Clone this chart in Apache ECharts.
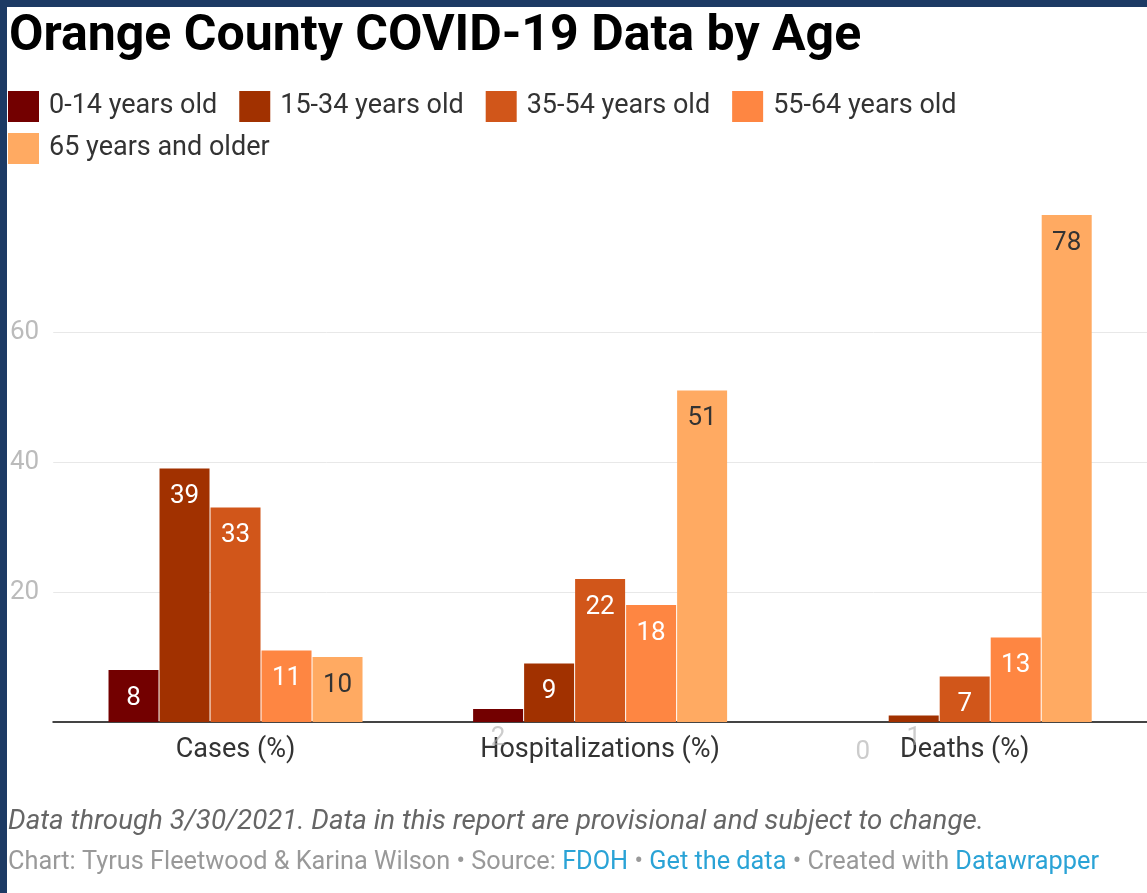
<!DOCTYPE html>
<html>
<head>
<meta charset="utf-8">
<script src="https://cdn.jsdelivr.net/npm/echarts@6/dist/echarts.min.js"></script>
<style>
  html, body { margin: 0; padding: 0; background: #1c3a64; }
  #main { position: absolute; left: 7px; top: 7px; width: 1140px; height: 886px; background: #fff; }
</style>
</head>
<body>
<div id="main"></div>
<script>
// chart data
const categories = ['Cases (%)', 'Hospitalizations (%)', 'Deaths (%)'];
const ageGroups = ['0-14 years old', '15-34 years old', '35-54 years old', '55-64 years old', '65 years and older'];
const age0to14 = [8, 2, 0];
const age15to34 = [39, 9, 1];
const age35to54 = [33, 22, 7];
const age55to64 = [11, 18, 13];
const age65plus = [10, 51, 78];

const colors = ['#730000', '#a13100', '#d1561a', '#fe8642', '#ffaa62'];
const labelColors = ['#fff', '#fff', '#fff', '#fff', '#333'];

const chart = echarts.init(document.getElementById('main'));

const seriesValues = [age0to14, age15to34, age35to54, age55to64, age65plus];

const series = seriesValues.map((vals, i) => ({
  name: ageGroups[i],
  type: 'bar',
  barWidth: 50,
  barGap: '2%',
  itemStyle: { color: colors[i] },
  label: {
    show: true,
    position: 'insideTop',
    distance: 15,
    color: labelColors[i],
    fontFamily: 'Roboto',
    fontSize: 26
  },
  // values too small for an inside label get a faded one under the axis
  data: vals.map(v => v < 3 ? {
    value: v,
    label: { position: 'bottom', distance: v === 0 ? 17 : 3, color: 'rgba(170,170,170,0.6)' }
  } : v)
}));

const legendText = { fontFamily: 'Roboto', fontSize: 27, color: '#333', padding: [0, 0, 0, 5] };

const option = {
  animation: false,
  textStyle: { fontFamily: 'Roboto' },
  title: {
    text: 'Orange County COVID-19 Data by Age',
    left: -3,
    top: 0,
    textStyle: { fontFamily: 'Roboto', fontWeight: 'bold', fontSize: 50, color: '#000' }
  },
  legend: [
    {
      data: ageGroups.slice(0, 4),
      left: 1, top: 84, padding: 0,
      itemWidth: 31, itemHeight: 31, itemGap: 22,
      icon: 'rect',
      textStyle: legendText
    },
    {
      data: ageGroups.slice(4),
      left: 1, top: 126, padding: 0,
      itemWidth: 31, itemHeight: 31,
      icon: 'rect',
      textStyle: legendText
    }
  ],
  grid: { left: 44, right: -6, top: 195, bottom: 171, containLabel: false },
  xAxis: {
    type: 'category',
    data: categories,
    axisLine: { lineStyle: { color: '#444', width: 2 } },
    axisTick: { show: false },
    axisLabel: { fontFamily: 'Roboto', fontSize: 27, color: '#333', margin: 15 }
  },
  yAxis: {
    type: 'value',
    min: 0, max: 80, interval: 20,
    axisLine: { show: false },
    axisTick: { show: false },
    axisLabel: {
      fontFamily: 'Roboto', fontSize: 26, color: '#bbb', margin: 14,
      showMaxLabel: false,
      formatter: v => (v === 0 || v === 80) ? '' : v
    },
    splitLine: { showMinLine: false, showMaxLine: false, lineStyle: { color: '#e8e8e8', width: 1 } }
  },
  series: series,
  graphic: [
    {
      type: 'text', left: 1, top: 801,
      style: {
        text: 'Data through 3/30/2021. Data in this report are provisional and subject to change.',
        font: 'italic 27.7px Roboto', fill: '#666'
      }
    },
    {
      type: 'text', left: 1, top: 843,
      style: {
        text: '{g|Chart: Tyrus Fleetwood & Karina Wilson • Source: }{b|FDOH}{g| • }{b|Get the data}{g| • Created with }{b|Datawrapper}',
        rich: {
          g: { fontFamily: 'Roboto', fontSize: 25.3, fill: '#999', color: '#999' },
          b: { fontFamily: 'Roboto', fontSize: 25.3, fill: '#2aa3d6', color: '#2aa3d6' }
        }
      }
    }
  ]
};

chart.setOption(option);
</script>
</body>
</html>
